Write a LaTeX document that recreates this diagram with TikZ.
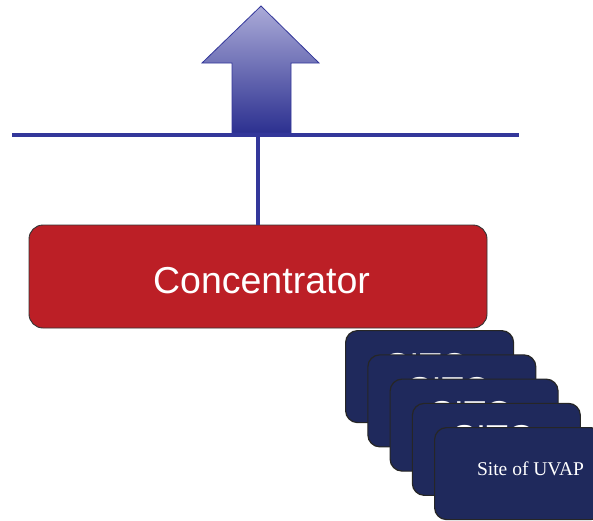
\documentclass[tikz,border=0pt]{standalone}
\usepackage{fontspec}
\setmainfont{Liberation Serif}
\newfontfamily\helv{Liberation Sans}
\definecolor{busblue}{HTML}{33379A}
\definecolor{arrowtop}{HTML}{ABABD8}
\definecolor{arrowbot}{HTML}{2C3090}
\definecolor{concred}{HTML}{BC1F26}
\definecolor{sitenavy}{HTML}{1F295C}
\tikzset{
  concbox/.style={draw=black!80, line width=0.9pt, fill=concred, rounded corners=14pt,
    minimum width=458pt, minimum height=103pt, inner sep=0pt},
  conctext/.style={text=white, inner sep=0pt, anchor=base, font=\helv\fontsize{37.5}{40}\selectfont},
  sitecard/.style={draw=black!85, line width=1.2pt, fill=sitenavy, rounded corners=12pt,
    minimum width=168pt, minimum height=92pt, inner sep=0pt, anchor=north west},
  sitelabel/.style={text=white, inner sep=0pt, anchor=base, font=\helv\fontsize{36}{40}\selectfont},
  uvaplabel/.style={text=white, inner sep=0pt, anchor=base, font=\fontsize{19.5}{22}\selectfont},
  bus/.style={draw=busblue, line width=4pt},
}
\begin{document}
\begin{tikzpicture}[x=1pt, y=-1pt]
\useasboundingbox (0,0) rectangle (593,520);

% upward arrow with vertical gradient
\shade[top color=arrowtop, bottom color=arrowbot, draw=busblue, line width=0.8pt, line join=miter]
  (261,6) -- (319,63) -- (291,63) -- (291,133) -- (232,133) -- (232,63) -- (202,63) -- cycle;

% bus line
\coordinate (busL) at (12,135);
\coordinate (busR) at (519,135);
\draw[bus] (busL) -- (busR);

% concentrator
\node[concbox] (conc) at (258,276.5) {};
\node[conctext] (conclabel) at (261.5,293) {Concentrator};
\coordinate (tap) at (conc.north |- busL);
\draw[bus] (tap) -- (conc.north);

% stack of site cards, back to front
\node[sitecard] (s1) at (345,330) {};
\node[sitelabel] (t1) at (427,378.2) {SITO};
\node[sitecard] (s2) at (367.25,354.25) {};
\node[sitelabel] (t2) at (449.25,402.4) {SITO};
\node[sitecard] (s3) at (389.5,378.5) {};
\node[sitelabel] (t3) at (471.5,426.7) {SITO};
\node[sitecard] (s4) at (411.75,402.75) {};
\node[sitelabel] (t4) at (493.75,450.9) {SITO};
\node[sitecard] (s5) at (434,427) {};
\node[uvaplabel] (t5) at (530.5,475) {Site of UVAP};
\end{tikzpicture}
\end{document}
